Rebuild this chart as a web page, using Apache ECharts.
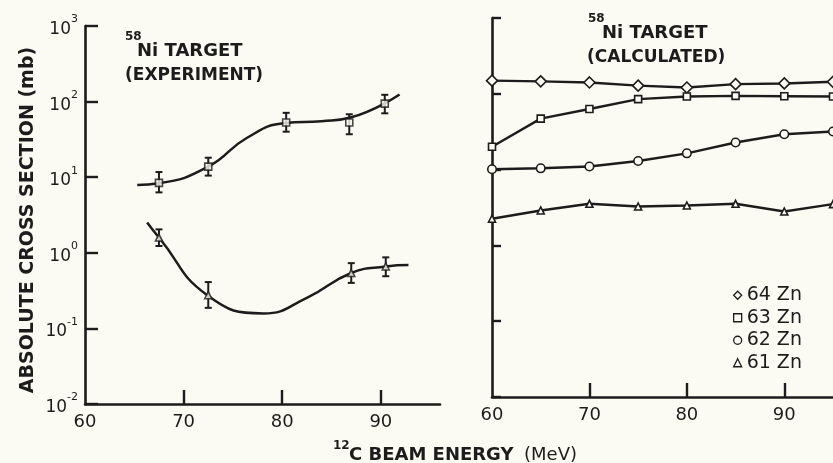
<!DOCTYPE html>
<html><head><meta charset="utf-8">
<script src="https://cdn.jsdelivr.net/npm/echarts@6/dist/echarts.min.js"></script>
<style>html,body{margin:0;padding:0;background:#fbfaf3}#c{width:833px;height:463px}</style>
</head><body><div id="c"></div>
<script>
// ---- data ----
const xTickValues = [60, 70, 80, 90];
const xInnerTicks = [70, 80, 90];

// Experiment (left panel) - upper curve (squares)
const exp63Energy = [67.5, 72.5, 80.4, 86.8, 90.4];
const exp63Value  = [8.4, 13.8, 53, 53, 94];
const exp63Low    = [6.3, 10.5, 40, 37, 70];
const exp63High   = [11.7, 18.1, 71, 68, 123];
const fit63Energy = [65.3, 67.5, 72.5, 76.4, 80.3, 84.0, 87.0, 91.9];
const fit63Value  = [7.9, 8.3, 13.8, 33, 52, 55, 62, 124];

// Experiment (left panel) - lower curve (triangles)
const exp61Energy = [67.5, 72.5, 87.0, 90.5];
const exp61Value  = [1.59, 0.275, 0.54, 0.66];
const exp61Low    = [1.23, 0.187, 0.40, 0.49];
const exp61High   = [2.04, 0.41, 0.73, 0.87];
const fit61Energy = [66.3, 67.5, 72.4, 78.1, 82.5, 87.0, 90.5, 92.8];
const fit61Value  = [2.52, 1.59, 0.275, 0.158, 0.254, 0.54, 0.66, 0.69];

// Calculated (right panel)
const calcEnergy = [60, 65, 70, 75, 80, 85, 90, 95];
const zn64Calc = [149, 146, 141, 128, 121, 134, 137, 144];
const zn63Calc = [20, 47, 63, 85, 92, 94, 93, 92];
const zn62Calc = [10.1, 10.4, 11, 13, 16.4, 22.8, 29.3, 31.8];
const zn61Calc = [2.25, 2.89, 3.54, 3.26, 3.36, 3.54, 2.8, 3.5];
const calcNames = ['64 Zn', '63 Zn', '62 Zn', '61 Zn'];
const calcSymbols = ['diamond', 'rect', 'circle', 'triangle'];

// ---- styling ----
const ink = '#1c1c1c';
const bg = '#fbfaf3';
const FF = 'DejaVu Sans';

const zip = (xs, ys) => xs.map((x, i) => [x, ys[i]]);
const errData = (xs, lo, hi) => xs.map((x, i) => [x, lo[i], hi[i]]);

function errRender(params, api) {
  const x = api.value(0);
  const pLo = api.coord([x, api.value(1)]);
  const pHi = api.coord([x, api.value(2)]);
  const w = 3.5;
  const st = { stroke: ink, lineWidth: 2 };
  return { type: 'group', children: [
    { type: 'line', shape: { x1: pLo[0], y1: pLo[1], x2: pHi[0], y2: pHi[1] }, style: st },
    { type: 'line', shape: { x1: pLo[0] - w, y1: pLo[1], x2: pLo[0] + w, y2: pLo[1] }, style: st },
    { type: 'line', shape: { x1: pHi[0] - w, y1: pHi[1], x2: pHi[0] + w, y2: pHi[1] }, style: st }
  ]};
}

function xAxisCfg(gridIndex, max) {
  return {
    type: 'value', gridIndex, min: 60, max, interval: 10,
    axisLine: { show: true, onZero: false, lineStyle: { color: ink, width: 2.6 } },
    axisTick: { show: true, inside: true, length: 14, customValues: xInnerTicks, lineStyle: { color: ink, width: 2.4 } },
    axisLabel: { show: true, customValues: xTickValues, margin: 9, color: ink, fontSize: 18, fontFamily: FF },
    splitLine: { show: false }
  };
}
function yAxisCfg(gridIndex, showLabels, tickLen) {
  return {
    type: 'log', logBase: 10, gridIndex, min: 0.01, max: 1000,
    axisLine: { show: true, lineStyle: { color: ink, width: 2.6 } },
    axisTick: { show: true, inside: true, length: tickLen, lineStyle: { color: ink, width: 2.4 } },
    axisLabel: {
      show: showLabels, margin: 7, color: ink, fontFamily: FF,
      formatter: v => '{a|10}{s|' + Math.round(Math.log10(v)) + '}',
      rich: {
        a: { fontSize: 17, lineHeight: 24, fontFamily: FF, color: ink, verticalAlign: 'bottom' },
        s: { fontSize: 11, lineHeight: 24, fontFamily: FF, color: ink, verticalAlign: 'top' }
      }
    },
    minorTick: { show: false },
    splitLine: { show: false }
  };
}

const markerStyle = { color: bg, borderColor: ink, borderWidth: 1.6 };
const calcSizes = [11, 7, 8.5, 7];

const calcSeries = [zn64Calc, zn63Calc, zn62Calc, zn61Calc].map((vals, k) => ({
  name: calcNames[k], type: 'line', xAxisIndex: 1, yAxisIndex: 1,
  data: zip(calcEnergy, vals), symbol: calcSymbols[k], symbolSize: calcSizes[k],
  showAllSymbol: true, clip: false, z: 3,
  lineStyle: { color: ink, width: 2.4 }, itemStyle: markerStyle
}));

const text = (x, y, str, font, extra) => ({
  type: 'text', x, y, silent: true,
  ...(extra || {}),
  style: { text: str, font, fill: ink, align: 'left', verticalAlign: 'middle', textAlign: 'left', textVerticalAlign: 'middle' }
});

const option = {
  backgroundColor: bg,
  animation: false,
  grid: [
    { left: 85, top: 26, width: 355, height: 378 },
    { left: 492, top: 18, width: 341, height: 379 }
  ],
  xAxis: [xAxisCfg(0, 96), xAxisCfg(1, 95)],
  yAxis: [yAxisCfg(0, true, 13), yAxisCfg(1, false, 9)],
  legend: {
    orient: 'vertical', left: 728, top: 280, itemWidth: 8, itemHeight: 8, itemGap: 2,
    textStyle: { fontSize: 19, color: ink, fontFamily: FF, lineHeight: 20.5 },
    data: calcNames.map((n, k) => ({ name: n, icon: calcSymbols[k], itemStyle: { color: bg, borderColor: ink, borderWidth: 1.3 } }))
  },
  series: [
    { name: 'err63', type: 'custom', xAxisIndex: 0, yAxisIndex: 0, renderItem: errRender,
      data: errData(exp63Energy, exp63Low, exp63High), encode: { x: 0, y: [1, 2] }, z: 2 },
    { name: 'fit63', type: 'line', xAxisIndex: 0, yAxisIndex: 0, data: zip(fit63Energy, fit63Value),
      smooth: 0.5, symbol: 'none', lineStyle: { color: ink, width: 2.5 }, z: 2 },
    { name: 'exp63', type: 'scatter', xAxisIndex: 0, yAxisIndex: 0, data: zip(exp63Energy, exp63Value),
      symbol: 'rect', symbolSize: 7, itemStyle: markerStyle, z: 4 },
    { name: 'err61', type: 'custom', xAxisIndex: 0, yAxisIndex: 0, renderItem: errRender,
      data: errData(exp61Energy, exp61Low, exp61High), encode: { x: 0, y: [1, 2] }, z: 2 },
    { name: 'fit61', type: 'line', xAxisIndex: 0, yAxisIndex: 0, data: zip(fit61Energy, fit61Value),
      smooth: 0.5, symbol: 'none', lineStyle: { color: ink, width: 2.5 }, z: 2 },
    { name: 'exp61', type: 'scatter', xAxisIndex: 0, yAxisIndex: 0, data: zip(exp61Energy, exp61Value),
      symbol: 'triangle', symbolSize: 7, itemStyle: markerStyle, z: 4 },
    ...calcSeries
  ],
  graphic: [
    text(125, 37, '58', 'bold 12px "DejaVu Sans"'),
    text(137, 51, 'Ni TARGET', 'bold 18px "DejaVu Sans"'),
    text(125, 76, '(EXPERIMENT)', 'bold 17px "DejaVu Sans"'),
    text(588, 19, '58', 'bold 12px "DejaVu Sans"'),
    text(602, 33, 'Ni TARGET', 'bold 18px "DejaVu Sans"'),
    text(587, 58, '(CALCULATED)', 'bold 17px "DejaVu Sans"'),
    text(333, 446, '12', 'bold 12px "DejaVu Sans"'),
    text(349, 455, 'C BEAM ENERGY', 'bold 18px "DejaVu Sans"'),
    text(524, 455, '(MeV)', '18px "DejaVu Sans"'),
    { type: 'text', x: 28, y: 220, rotation: Math.PI / 2, silent: true,
      style: { text: 'ABSOLUTE CROSS SECTION (mb)', font: 'bold 19px "DejaVu Sans"', fill: ink,
               align: 'center', verticalAlign: 'middle', textAlign: 'center', textVerticalAlign: 'middle' } }
  ]
};

const chart = echarts.init(document.getElementById('c'), null, { renderer: 'canvas' });
chart.setOption(option);
</script></body></html>
